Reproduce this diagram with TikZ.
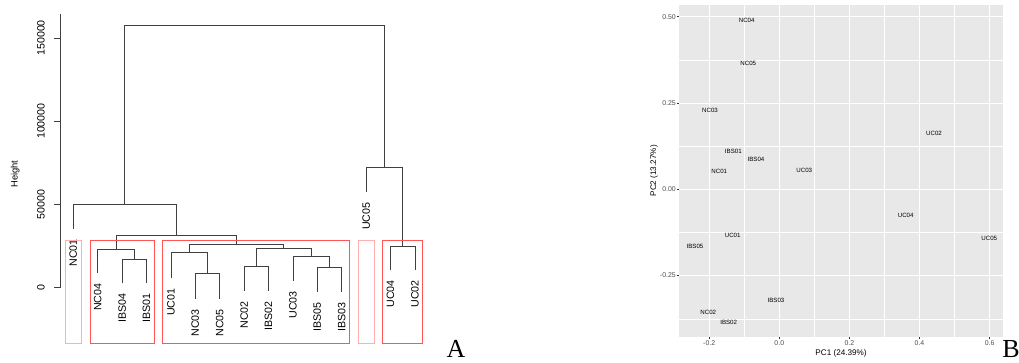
\documentclass[tikz,border=0pt]{standalone}
\usepackage{fontspec}
\setmainfont{Liberation Sans}
\newfontfamily\serifAB{Liberation Serif}
\definecolor{boxred}{RGB}{255,85,85}
\definecolor{boxpink}{RGB}{255,175,175}
\definecolor{panelbg}{RGB}{232,232,232}
\definecolor{tickgray}{RGB}{77,77,77}
\begin{document}
\begin{tikzpicture}[x=0.75pt,y=-0.75pt,
  dline/.style={draw=black!75, line width=0.6pt},
  leaf/.style={rotate=90, anchor=east, inner sep=0pt, font=\fontsize{8}{9}\selectfont},
  ytick/.style={rotate=90, anchor=base, inner sep=0pt, font=\fontsize{8}{9}\selectfont},
  strongbox/.style={draw=boxred, line width=0.7pt},
  lightbox/.style={draw=boxpink, line width=0.7pt},
  ptlabel/.style={inner sep=0pt, font=\fontsize{4.6}{5}\selectfont},
  pticklabel/.style={inner sep=0pt, text=tickgray, font=\fontsize{5.2}{6}\selectfont},
  ptitle/.style={inner sep=0pt, font=\fontsize{6.1}{7}\selectfont},
  minorgrid/.style={draw=white, line width=0.3pt},
  majorgrid/.style={draw=white, line width=0.6pt},
  ptick/.style={draw=black!80, line width=0.4pt},
  bigletter/.style={inner sep=0pt, anchor=base, font=\serifAB\fontsize{19.5}{20}\selectfont}
]
\useasboundingbox (0,0) rectangle (1019,362);

% ---------------- Dendrogram (A) ----------------
% axis
\draw[dline] (60,14) -- (60,287.5);
\foreach \yy/\lab in {287.5/0, 204.3/50000, 121.1/100000, 37.9/150000}{
  \draw[dline] (54.3,\yy) -- (60,\yy);
  \node[ytick] at (44.5,\yy) {\lab};
}
\node[rotate=90, anchor=base, inner sep=0pt, font=\fontsize{7}{8}\selectfont] (htitle) at (17.5,174) {Height};

% leaves
\foreach \n/\x/\y in {NC01/73.3/229, NC04/97.7/273.3, IBS04/122.1/283.3, IBS01/146.5/283.3,
  UC01/170.9/278.3, NC03/195.3/299, NC05/219.7/299, NC02/244.1/291, IBS02/268.5/291,
  UC03/292.9/281, IBS05/317.3/292.3, IBS03/341.7/292.3, UC05/366.1/192.3,
  UC04/390.5/270, UC02/414.9/270}{
  \coordinate (e\n) at (\x,\y);
  \node[leaf] (l\n) at (\x,\y+10) {\n};
}

% merges
\coordinate (mA) at (134.3,259);
\draw[dline] (eIBS04) |- (mA) -| (eIBS01);
\coordinate (mB) at (116,249.3);
\draw[dline] (eNC04) |- (mB) -| (mA);
\coordinate (mC) at (207.5,273.3);
\draw[dline] (eNC03) |- (mC) -| (eNC05);
\coordinate (mD) at (189.2,252.7);
\draw[dline] (eUC01) |- (mD) -| (mC);
\coordinate (mE) at (256.3,266.7);
\draw[dline] (eNC02) |- (mE) -| (eIBS02);
\coordinate (mF) at (329.5,267.3);
\draw[dline] (eIBS05) |- (mF) -| (eIBS03);
\coordinate (mG) at (311.2,256);
\draw[dline] (eUC03) |- (mG) -| (mF);
\coordinate (mH) at (283.75,248.3);
\draw[dline] (mE) |- (mH) -| (mG);
\coordinate (mI) at (236.5,244.3);
\draw[dline] (mD) |- (mI) -| (mH);
\coordinate (mJ) at (176.25,235.7);
\draw[dline] (mB) |- (mJ) -| (mI);
\coordinate (mK) at (124.8,204.3);
\draw[dline] (eNC01) |- (mK) -| (mJ);
\coordinate (mL) at (402.7,246);
\draw[dline] (eUC04) |- (mL) -| (eUC02);
\coordinate (mM) at (384.4,167.3);
\draw[dline] (eUC05) |- (mM) -| (mL);
\coordinate (mN) at (254.6,25.3);
\draw[dline] (mK) |- (mN) -| (mM);

% red boxes
\draw[lightbox] (65.7,240) rectangle (81.7,343.3);
\draw[strongbox] (90,240) rectangle (154.3,343.3);
\draw[strongbox] (162.7,240) rectangle (349,343.3);
\draw[lightbox] (358.3,240) rectangle (374,343.3);
\draw[strongbox] (382.7,240) rectangle (422.7,343.3);

\node[bigletter] (labA) at (456,357.5) {A};

% ---------------- PCA plot (B) ----------------
\fill[panelbg] (679.3,5) rectangle (1002.7,336.7);
% minor grid
\foreach \xx in {744.25, 814.35, 884.45, 954.55}{
  \draw[minorgrid] (\xx,5) -- (\xx,336.7);
}
\foreach \yy in {59.85, 146.15, 232.45, 318.75}{
  \draw[minorgrid] (679.3,\yy) -- (1002.7,\yy);
}
% major grid + ticks + labels
\foreach \xx/\lab in {709.2/-0.2, 779.3/0.0, 849.4/0.2, 919.5/0.4, 989.6/0.6}{
  \draw[majorgrid] (\xx,5) -- (\xx,336.7);
  \draw[ptick] (\xx,336.7) -- (\xx,339.4);
  \node[pticklabel] at (\xx,343.6) {\lab};
}
\foreach \yy/\lab in {16.7/0.50, 103/0.25, 189.3/0.00, 275.6/-0.25}{
  \draw[majorgrid] (679.3,\yy) -- (1002.7,\yy);
  \draw[ptick] (676.6,\yy) -- (679.3,\yy);
  \node[pticklabel, anchor=east] at (676,\yy) {\lab};
}
\node[ptitle] (xtitle) at (841,353.3) {PC1 (24.39\%)};
\node[ptitle, rotate=90] (ytitle) at (654,170.8) {PC2 (13.27\%)};

% points
\foreach \n/\x/\y in {NC04/746.7/20.7, NC05/748.3/63.3, NC03/710/110, UC02/934/133.3,
  IBS01/733.3/151.7, IBS04/756/159, NC01/719.3/171.7, UC03/804.3/170,
  UC04/905.7/215, UC01/732.7/235, IBS05/695/246, UC05/989.3/238.3,
  IBS03/776/300, NC02/708.3/312.3, IBS02/728.7/322.7}{
  \node[ptlabel] (p\n) at (\x,\y) {\n};
}

\node[bigletter, anchor=base west] (labB) at (1002,357.5) {B};
\end{tikzpicture}
\end{document}
